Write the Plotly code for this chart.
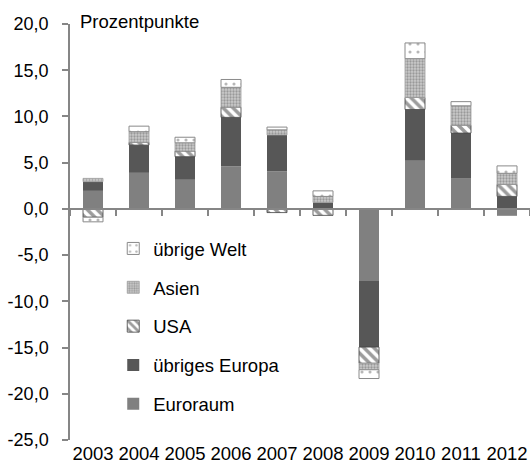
import plotly.graph_objects as go

years = ["2003", "2004", "2005", "2006", "2007", "2008", "2009", "2010", "2011", "2012"]
euroraum = [1.95, 3.9, 3.15, 4.6, 4.05, 0.0, -7.8, 5.2, 3.3, -0.75]
uebriges_europa = [1.0, 3.0, 2.5, 5.3, 3.95, 0.7, -7.15, 5.55, 4.9, 1.35]
usa = [-0.9, 0.3, 0.6, 1.1, -0.4, -0.7, -1.75, 1.3, 0.85, 1.3]
asien = [0.35, 1.15, 0.9, 2.15, 0.55, 0.65, -0.7, 4.2, 2.1, 1.2]
uebrige_welt = [-0.5, 0.6, 0.6, 0.85, 0.3, 0.6, -0.95, 1.7, 0.45, 0.8]
y_ticks = [-25, -20, -15, -10, -5, 0, 5, 10, 15, 20]
y_tick_labels = ["-25,0", "-20,0", "-15,0", "-10,0", "-5,0", "0,0", "5,0", "10,0", "15,0", "20,0"]

FONT = "Liberation Sans, Arial, sans-serif"
AX = "#868686"

fig = go.Figure()
common = dict(x=years, xaxis="x", yaxis="y")

fig.add_bar(name="Euroraum", y=euroraum, legendgroup="a", legendrank=5,
            marker=dict(color="#808080", line=dict(width=0)), **common)
fig.add_bar(name="übriges Europa", y=uebriges_europa, legendgroup="b", legendrank=4,
            marker=dict(color="#575757", line=dict(width=0)), **common)
fig.add_bar(name="USA", y=usa, legendgroup="c", legendrank=3,
            marker=dict(color="white", line=dict(color="#404040", width=0.8),
                        pattern=dict(shape="\\", fgcolor="#3a3a3a", bgcolor="white",
                                     size=7, solidity=0.5)), **common)
fig.add_bar(name="Asien", y=asien, legendgroup="d", legendrank=2,
            marker=dict(color="#b0b0b0", line=dict(color="#a0a0a0", width=0.8),
                        pattern=dict(shape=".", fgcolor="#686868", bgcolor="#cacaca",
                                     size=3, solidity=0.45)), **common)
fig.add_bar(name="übrige Welt", y=uebrige_welt, legendgroup="e", legendrank=1,
            marker=dict(color="white", line=dict(color="#8a8a8a", width=1),
                        pattern=dict(shape=".", fgcolor="#707070", bgcolor="white",
                                     size=8, solidity=0.12)), **common)

# invisible trace to host the zero-line category axis
fig.add_bar(x=years, y=[0] * len(years), xaxis="x2", yaxis="y",
            showlegend=False, marker=dict(color="rgba(0,0,0,0)"), hoverinfo="skip")

fig.update_layout(
    width=530, height=470,
    margin=dict(l=70, r=0, t=24, b=30),
    barmode="relative", bargap=0.565,
    plot_bgcolor="white", paper_bgcolor="white",
    font=dict(family=FONT, size=18, color="black"),
    showlegend=True,
    legend=dict(x=0.094, y=0.505, xanchor="left", yanchor="top",
                traceorder="grouped", tracegroupgap=11.8,
                font=dict(size=18.5), bgcolor="rgba(0,0,0,0)",
                itemwidth=30),
    xaxis=dict(type="category", showline=False, ticks="", showgrid=False,
               zeroline=False, tickfont=dict(size=18.5), automargin=False),
    xaxis2=dict(type="category", overlaying="x", matches="x", anchor="free",
                position=25 / 45, side="bottom", showline=True, linecolor=AX,
                linewidth=1.5, ticks="outside", ticklen=6, tickcolor=AX,
                tickwidth=1.5, tickson="boundaries", showticklabels=False,
                showgrid=False, zeroline=False),
    yaxis=dict(range=[-25, 20], tickvals=y_ticks, ticktext=y_tick_labels,
               showline=True, linecolor=AX, linewidth=1.5, ticks="outside",
               ticklen=6, tickcolor=AX, tickwidth=1.5, showgrid=False,
               zeroline=False, ticklabelstandoff=10, tickfont=dict(size=18),
               automargin=False),
    annotations=[dict(text="Prozentpunkte", xref="paper", yref="paper",
                      x=8 / 460, y=1.005, xanchor="left", yanchor="middle",
                      showarrow=False, font=dict(size=18.5))],
)

fig.write_html("out.html", config={"displayModeBar": False},
               post_script="document.body.style.margin='0';")
